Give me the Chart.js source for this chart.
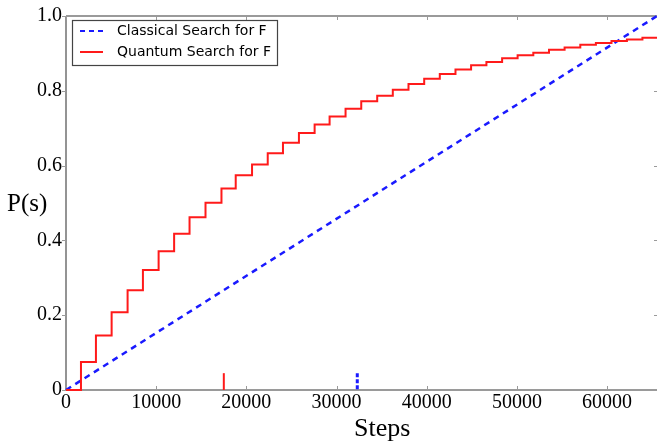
<!DOCTYPE html>
<html>
<head>
<meta charset="utf-8">
<script src="https://cdn.jsdelivr.net/npm/chart.js@4.4.1/dist/chart.umd.min.js"></script>
<style>
  html, body { margin: 0; padding: 0; background: #ffffff; }
  #wrap { width: 657px; height: 446px; }
</style>
</head>
<body>
<div id="wrap"><canvas id="c" width="657" height="446"></canvas></div>
<script>
// ---- data ----
const xTickValues = [0, 10000, 20000, 30000, 40000, 50000, 60000];
const xTickLabels = ['0', '10000', '20000', '30000', '40000', '50000', '60000'];
const yTickValues = [0, 0.2, 0.4, 0.6, 0.8, 1.0];
const yTickLabels = ['0', '0.2', '0.4', '0.6', '0.8', '1.0'];
const xMax = 65536;

const seriesNames = ['Classical Search for F', 'Quantum Search for F'];

// Classical search: straight line
const classicalX = [0, 65536];
const classicalP = [0, 1.0];

// Quantum search: step positions (steps) and level after each jump
const quantumStepX = [1660, 3320, 5060, 6830, 8530, 10270, 11990, 13700, 15470, 17240,
  18820, 20630, 22370, 24060, 25830, 27570, 29230, 31000, 32740, 34510,
  36240, 37980, 39720, 41450, 43190, 44920, 46620, 48360, 50080, 51820,
  53560, 55290, 57030, 58760, 60490, 62200, 63920];
const quantumLevels = [0, 0.075, 0.146, 0.208, 0.267, 0.321, 0.371, 0.418, 0.462, 0.501,
  0.539, 0.574, 0.603, 0.633, 0.661, 0.687, 0.710, 0.731, 0.752, 0.772,
  0.787, 0.803, 0.818, 0.832, 0.845, 0.857, 0.868, 0.877, 0.887, 0.895,
  0.902, 0.910, 0.916, 0.923, 0.928, 0.933, 0.937, 0.942];

// Marker ticks on the x axis
const quantumMarkerX = 17500;
const classicalMarkerX = 32300;
const markerTop = 0.045;

// ---- build chart data ----
const classicalPts = classicalX.map((x, i) => ({ x: x, y: classicalP[i] }));
const quantumPts = [{ x: 0, y: quantumLevels[0] }];
quantumStepX.forEach((x, i) => quantumPts.push({ x: x, y: quantumLevels[i + 1] }));
quantumPts.push({ x: xMax, y: quantumLevels[quantumLevels.length - 1] });

const RED = '#ff1a1a';
const BLUE = '#1a1aff';
const SPINE = '#7a7a7a';

const frame = {
  id: 'frame',
  beforeDatasetsDraw(chart) {
    const { ctx, chartArea: a, scales } = chart;
    ctx.save();
    ctx.strokeStyle = SPINE;
    ctx.lineWidth = 1.6;
    ctx.beginPath();
    ctx.moveTo(a.left, a.top); ctx.lineTo(a.right + 2, a.top);
    ctx.moveTo(a.left, a.top); ctx.lineTo(a.left, a.bottom);
    ctx.moveTo(a.left, a.bottom); ctx.lineTo(a.right + 2, a.bottom);
    ctx.stroke();
    ctx.strokeStyle = '#9a9a9a';
    ctx.lineWidth = 1;
    ctx.beginPath();
    xTickValues.forEach(v => {
      const px = Math.round(scales.x.getPixelForValue(v)) + 0.5;
      ctx.moveTo(px, a.bottom); ctx.lineTo(px, a.bottom - 4);
      ctx.moveTo(px, a.top); ctx.lineTo(px, a.top + 4);
    });
    yTickValues.forEach(v => {
      const py = Math.round(scales.y.getPixelForValue(v)) + 0.5;
      ctx.moveTo(a.left - 4, py); ctx.lineTo(a.left, py);
      ctx.moveTo(a.right, py); ctx.lineTo(a.right - 3, py);
    });
    ctx.stroke();
    ctx.restore();
  },
  afterDraw(chart) {
    const { ctx } = chart;
    ctx.save();
    // axis titles
    ctx.fillStyle = '#000';
    ctx.textAlign = 'left';
    ctx.textBaseline = 'alphabetic';
    ctx.font = '25px "Liberation Serif", "Times New Roman", serif';
    ctx.fillText('P(s)', 7, 211);
    ctx.font = '26px "Liberation Serif", "Times New Roman", serif';
    ctx.fillText('Steps', 354, 436);

    // legend
    const lx = 72, ly = 20, lw = 205, lh = 45;
    ctx.fillStyle = '#fff';
    ctx.fillRect(lx, ly, lw, lh);
    ctx.strokeStyle = '#444';
    ctx.lineWidth = 1.2;
    ctx.strokeRect(lx + 0.5, ly + 0.5, lw, lh);
    const rows = [
      { label: seriesNames[0], color: BLUE, dash: [5, 4], y: 31 },
      { label: seriesNames[1], color: RED, dash: [], y: 52 }
    ];
    ctx.font = '14px "DejaVu Sans", sans-serif';
    ctx.textBaseline = 'middle';
    rows.forEach(r => {
      ctx.strokeStyle = r.color;
      ctx.lineWidth = 2;
      ctx.setLineDash(r.dash);
      ctx.beginPath();
      ctx.moveTo(80, r.y); ctx.lineTo(103, r.y);
      ctx.stroke();
      ctx.setLineDash([]);
      ctx.fillStyle = '#000';
      ctx.fillText(r.label, 117, r.y);
    });
    ctx.restore();
  }
};

new Chart(document.getElementById('c'), {
  type: 'line',
  data: {
    datasets: [
      {
        label: seriesNames[0],
        data: classicalPts,
        borderColor: BLUE,
        borderWidth: 2.5,
        borderDash: [6, 5],
        pointRadius: 0,
        fill: false,
        clip: 6,
        order: 2
      },
      {
        label: seriesNames[1],
        data: quantumPts,
        borderColor: RED,
        borderWidth: 2,
        stepped: 'before',
        pointRadius: 0,
        fill: false,
        clip: 6,
        order: 1
      },
      {
        label: 'quantum marker',
        data: [{ x: quantumMarkerX, y: 0 }, { x: quantumMarkerX, y: markerTop }],
        borderColor: RED,
        borderWidth: 2,
        pointRadius: 0,
        clip: 6
      },
      {
        label: 'classical marker',
        data: [{ x: classicalMarkerX, y: markerTop }, { x: classicalMarkerX, y: 0 }],
        borderColor: BLUE,
        borderWidth: 3,
        borderDash: [4, 2],
        pointRadius: 0,
        clip: 6
      }
    ]
  },
  options: {
    responsive: false,
    animation: false,
    devicePixelRatio: 1,
    layout: { padding: { top: 13, right: 0, left: 0, bottom: 0 } },
    plugins: { legend: { display: false }, tooltip: { enabled: false } },
    scales: {
      x: {
        type: 'linear',
        min: 0,
        max: xMax,
        afterBuildTicks: s => { s.ticks = xTickValues.map(v => ({ value: v })); },
        afterFit: s => { s.height = 56; },
        grid: { display: false, drawTicks: false },
        border: { display: false },
        ticks: {
          padding: 1,
          maxRotation: 0,
          autoSkip: false,
          color: '#000',
          font: { family: '"Liberation Serif", "Times New Roman", serif', size: 20 },
          callback: v => { const i = xTickValues.indexOf(v); return i >= 0 ? xTickLabels[i] : ''; }
        }
      },
      y: {
        type: 'linear',
        min: 0,
        max: 1,
        afterBuildTicks: s => { s.ticks = yTickValues.map(v => ({ value: v })); },
        afterFit: s => { s.width = 66; },
        grid: { display: false, drawTicks: false },
        border: { display: false },
        ticks: {
          padding: 4,
          autoSkip: false,
          color: '#000',
          font: { family: '"Liberation Serif", "Times New Roman", serif', size: 20 },
          callback: v => { const i = yTickValues.findIndex(t => Math.abs(t - v) < 1e-9); return i >= 0 ? yTickLabels[i] : ''; }
        }
      }
    }
  },
  plugins: [frame]
});
</script>
</body>
</html>
